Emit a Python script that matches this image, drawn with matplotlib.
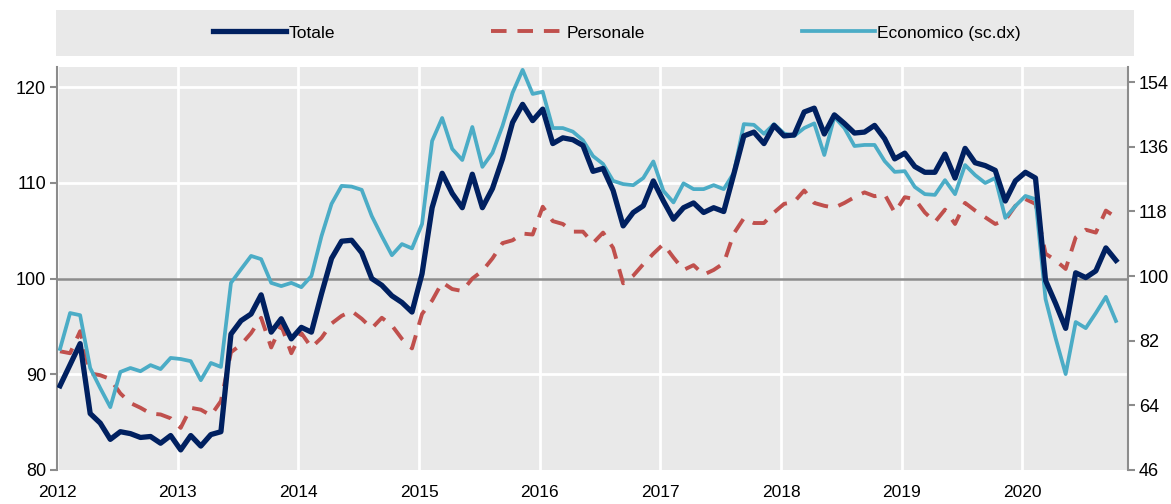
import matplotlib.pyplot as plt
import numpy as np
from matplotlib.patches import Rectangle
from matplotlib.lines import Line2D

plt.rcParams['font.family'] = ['Liberation Sans Narrow', 'Liberation Sans', 'DejaVu Sans']

# monthly series, Jan 2012 - Oct 2020
years = ['2012', '2013', '2014', '2015', '2016', '2017', '2018', '2019', '2020']

totale = [
    88.8, 91.0, 93.2, 85.9, 84.9, 83.2, 84.0, 83.8, 83.4, 83.5, 82.8, 83.6,
    82.1, 83.6, 82.5, 83.7, 84.0, 94.2, 95.6, 96.3, 98.3, 94.4, 95.8, 93.7,
    94.9, 94.4, 98.4, 102.1, 103.9, 104.0, 102.7, 100.0, 99.3, 98.2, 97.5, 96.5,
    100.5, 107.4, 111.0, 108.9, 107.4, 110.9, 107.4, 109.4, 112.5, 116.3, 118.2, 116.5,
    117.7, 114.1, 114.7, 114.5, 113.9, 111.2, 111.5, 109.2, 105.5, 106.9, 107.6, 110.2,
    108.1, 106.2, 107.4, 107.9, 106.9, 107.4, 107.0, 110.9, 114.9, 115.3, 114.1, 116.0,
    114.9, 115.0, 117.4, 117.8, 115.1, 117.1, 116.2, 115.2, 115.3, 116.0, 114.6, 112.5,
    113.1, 111.7, 111.1, 111.1, 113.0, 110.5, 113.6, 112.1, 111.8, 111.3, 108.1, 110.2,
    111.1, 110.5, 99.8, 97.4, 94.8, 100.6, 100.1, 100.8, 103.2, 101.9,
]

personale = [
    92.4, 92.2, 94.5, 90.1, 89.9, 89.5, 88.0, 87.0, 86.5, 85.9, 85.8, 85.4,
    84.4, 86.5, 86.3, 85.7, 87.2, 92.3, 93.1, 94.3, 95.9, 92.8, 95.1, 92.2,
    94.3, 92.8, 93.8, 95.3, 96.1, 96.6, 95.8, 94.8, 95.9, 95.1, 93.7, 92.7,
    96.3, 97.7, 99.6, 98.9, 98.7, 100.0, 100.8, 102.1, 103.7, 104.0, 104.7, 104.6,
    107.5, 106.0, 105.7, 104.9, 104.9, 103.7, 104.8, 103.2, 99.5, 100.3, 101.5, 102.6,
    103.6, 102.2, 100.9, 101.4, 100.4, 100.9, 101.6, 104.7, 106.3, 105.8, 105.8, 106.9,
    107.8, 108.0, 109.2, 107.9, 107.6, 107.4, 107.9, 108.5, 109.0, 108.6, 108.8, 106.9,
    108.5, 108.3, 106.9, 105.9, 107.2, 105.7, 107.9, 107.1, 106.4, 105.7, 106.1, 107.6,
    108.3, 107.8, 102.6, 101.9, 101.0, 104.3, 105.1, 104.8, 107.1, 106.4,
]

economico = [
    79.7, 89.7, 89.1, 74.4, 68.8, 63.5, 73.3, 74.4, 73.5, 75.2, 74.1, 77.2,
    76.9, 76.3, 71.0, 75.8, 74.7, 98.1, 101.9, 105.6, 104.7, 98.1, 97.2, 98.1,
    96.9, 100.0, 111.1, 120.1, 125.1, 124.9, 124.0, 116.7, 111.1, 105.8, 108.9, 107.7,
    114.5, 137.6, 144.0, 135.4, 132.3, 141.5, 130.4, 134.3, 141.8, 151.0, 157.4, 150.7,
    151.3, 141.2, 141.2, 140.2, 137.8, 133.4, 131.2, 126.5, 125.6, 125.3, 127.3, 131.9,
    123.7, 120.5, 125.8, 124.2, 124.2, 125.3, 124.2, 128.7, 142.3, 142.1, 139.6, 142.3,
    139.7, 139.0, 141.2, 142.5, 133.7, 144.3, 141.2, 136.2, 136.5, 136.5, 132.0, 129.0,
    129.2, 124.8, 122.8, 122.6, 126.7, 122.8, 130.9, 128.1, 125.9, 127.3, 116.2, 119.5,
    122.3, 121.4, 93.6, 82.7, 72.7, 87.2, 85.5, 89.7, 94.2, 87.5,
]

left_ticks = [80, 90, 100, 110, 120]
right_ticks = [46, 64, 82, 100, 118, 136, 154]

c_tot = '#002060'
c_per = '#C0504D'
c_eco = '#4BACC6'
grey = '#8c8c8c'
dash = (0, (4, 2.8))

x = np.arange(len(totale)) + 0.3

fig = plt.figure(figsize=(11.71, 5.04), dpi=100)
ax = fig.add_axes([57 / 1171, 34 / 504, (1128 - 57) / 1171, (470 - 67) / 504])
ax.set_facecolor('#e9e9e9')

# gridlines
for i in range(len(years)):
    ax.axvline(i * 12, color='white', lw=2, zorder=1)
for t in [90, 110, 120]:
    ax.axhline(t, color='white', lw=2, zorder=1)
ax.axhline(100, color=grey, lw=1.8, zorder=2)

ax.plot(x, personale, color=c_per, lw=2.8, linestyle=dash, zorder=3)

ax.set_xlim(0, 106.5)
ax.set_ylim(80, 122.1)

ax2 = ax.twinx()
ax2.set_ylim(46, 158.2)
ax2.plot(x, economico, color=c_eco, lw=2.7, zorder=4)
# totale belongs to the left scale but is drawn above economico
ax2.plot(x, totale, color=c_tot, lw=3.8, zorder=5, transform=ax.transData)
ax2.set_ylim(46, 158.2)

ax.set_xticks([i * 12 for i in range(len(years))])
ax.set_xticklabels(years)
ax.set_yticks(left_ticks)
ax2.set_yticks(right_ticks)

for a in (ax, ax2):
    for s in a.spines.values():
        s.set_visible(False)
ax.spines['left'].set_visible(True)
ax.spines['left'].set_color(grey)
ax.spines['left'].set_linewidth(1.5)
ax2.spines['right'].set_visible(True)
ax2.spines['right'].set_color(grey)
ax2.spines['right'].set_linewidth(1.5)

ax.tick_params(axis='y', colors=grey, labelcolor='black', labelsize=13, length=5, width=1.5, pad=3)
ax2.tick_params(axis='y', colors=grey, labelcolor='black', labelsize=13, length=5, width=1.5, pad=3)
ax.tick_params(axis='x', length=0, labelsize=12.5, pad=11)

# legend box
fig.patches.append(Rectangle((56 / 1171, 1 - 56 / 504), (1134 - 56) / 1171, 46 / 504,
                             transform=fig.transFigure, facecolor='#e9e9e9',
                             edgecolor='none', zorder=0))
handles = [
    Line2D([], [], color=c_tot, lw=3.8),
    Line2D([], [], color=c_per, lw=2.8, linestyle=dash),
    Line2D([], [], color=c_eco, lw=2.7),
]
fig.legend(handles, ['Totale', 'Personale', 'Economico (sc.dx)'], loc='center',
           bbox_to_anchor=(617 / 1171, 1 - 33 / 504), ncol=3, frameon=False,
           fontsize=12.5, handlelength=4.2, handletextpad=0.15, columnspacing=9.0)

fig.savefig('out.png', dpi=100)
